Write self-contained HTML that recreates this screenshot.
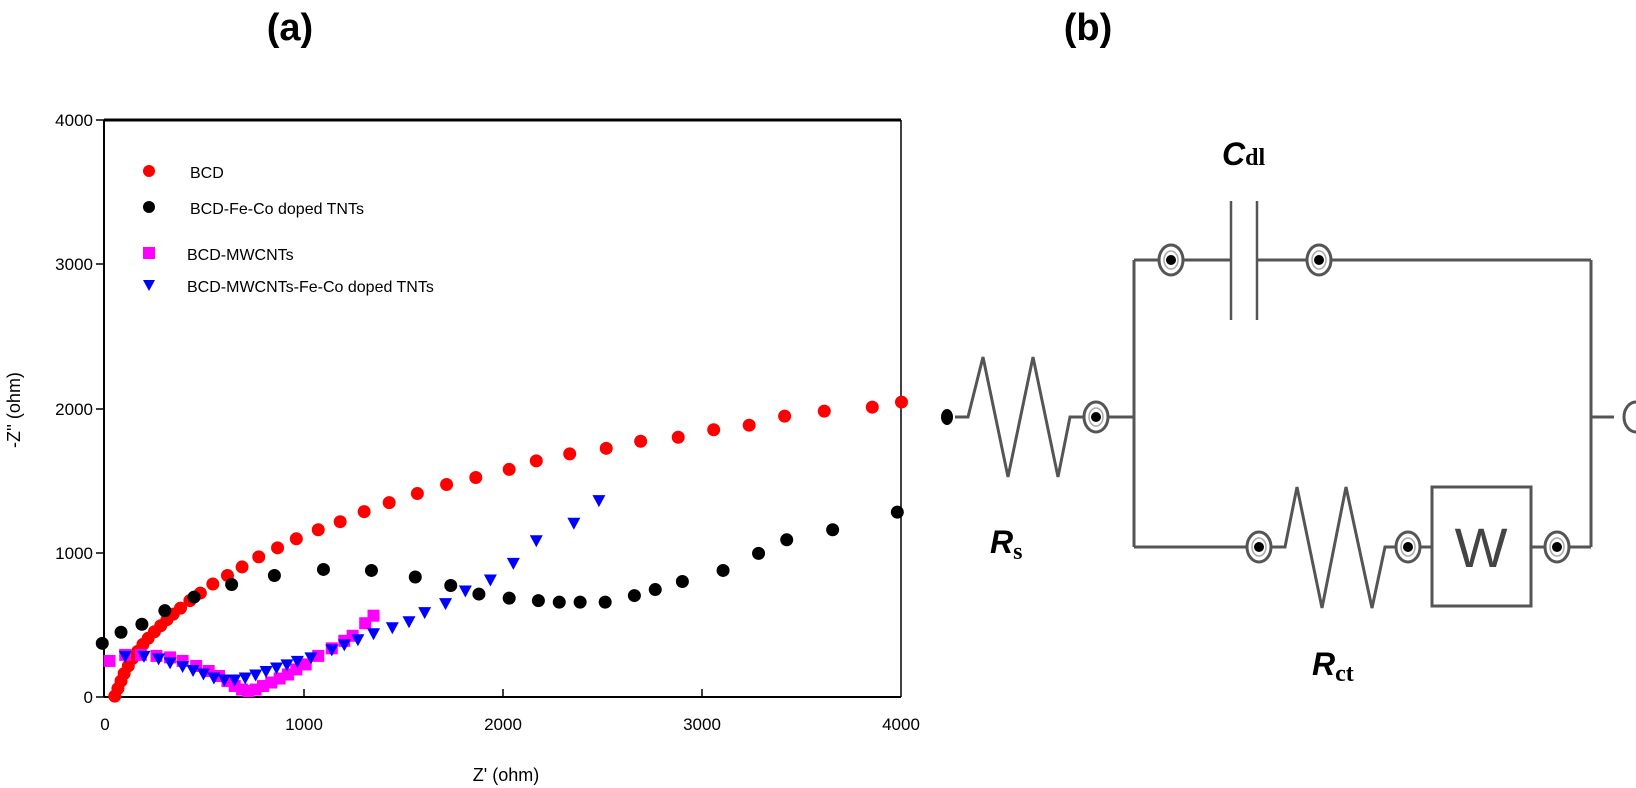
<!DOCTYPE html>
<html><head><meta charset="utf-8"><style>
html,body{margin:0;padding:0;background:#fff;}
svg{display:block;}
</style></head><body>
<svg id="s" width="1636" height="788" xmlns="http://www.w3.org/2000/svg" font-family="Liberation Sans, Arial, sans-serif">
<text x="290" y="40" font-size="38" font-weight="bold" text-anchor="middle">(a)</text>
<text x="1088" y="40" font-size="38" font-weight="bold" text-anchor="middle">(b)</text>
<g id="plot">
<line x1="104" y1="120" x2="901" y2="120" stroke="#000" stroke-width="3"/>
<line x1="901" y1="120" x2="901" y2="697" stroke="#000" stroke-width="1.5"/>
<line x1="104" y1="120" x2="104" y2="697" stroke="#000" stroke-width="2"/>
<line x1="104" y1="697" x2="901" y2="697" stroke="#000" stroke-width="2"/>
<g stroke="#000" stroke-width="1.5">
<line x1="96" y1="120" x2="104" y2="120"/><line x1="96" y1="264" x2="104" y2="264"/>
<line x1="96" y1="409" x2="104" y2="409"/><line x1="96" y1="553" x2="104" y2="553"/><line x1="96" y1="697" x2="104" y2="697"/>
<line x1="304" y1="697" x2="304" y2="689"/><line x1="503" y1="697" x2="503" y2="689"/><line x1="702" y1="697" x2="702" y2="689"/>
</g>
<g font-size="17" text-anchor="end">
<text x="93" y="126">4000</text><text x="93" y="270">3000</text><text x="93" y="415">2000</text><text x="93" y="559">1000</text><text x="93" y="703">0</text>
</g>
<g font-size="17" text-anchor="middle">
<text x="105" y="730">0</text><text x="304" y="730">1000</text><text x="503" y="730">2000</text><text x="702" y="730">3000</text><text x="901" y="730">4000</text>
</g>
<text x="506" y="781" font-size="18" text-anchor="middle">Z' (ohm)</text>
<text transform="translate(20,410) rotate(-90)" font-size="18" text-anchor="middle">-Z'' (ohm)</text>
<circle cx="149" cy="171" r="6" fill="#f00"/><text x="190" y="178" font-size="16">BCD</text>
<circle cx="149" cy="207" r="6" fill="#000"/><text x="190" y="214" font-size="16">BCD-Fe-Co doped TNTs</text>
<rect x="143" y="247" width="12" height="12" fill="#f0f"/><text x="187" y="260" font-size="16">BCD-MWCNTs</text>
<path d="M143,280 L155,280 L149,291 Z" fill="#00f"/><text x="187" y="292" font-size="16">BCD-MWCNTs-Fe-Co doped TNTs</text>
<g id="data"></g>
</g>
<g id="circ" stroke="#555" stroke-width="3" fill="none">
<ellipse cx="947" cy="417" rx="6" ry="8" fill="#000" stroke="none"/>
<polyline points="955,417 968,417 983,357 1008,477 1033,357 1058,477 1070,417 1096,417"/>
<line x1="1096" y1="417" x2="1134" y2="417"/>
<line x1="1134" y1="260" x2="1134" y2="547"/>
<line x1="1134" y1="260" x2="1231" y2="260"/><line x1="1257" y1="260" x2="1591" y2="260"/>
<line x1="1231" y1="201" x2="1231" y2="320" stroke-width="2.5"/><line x1="1257" y1="201" x2="1257" y2="320" stroke-width="2.5"/>
<line x1="1591" y1="260" x2="1591" y2="547"/>
<line x1="1591" y1="417" x2="1614" y2="417"/>
<path d="M1636,402 A12,15 0 0 0 1636,432"/>
<line x1="1134" y1="547" x2="1285" y2="547"/>
<polyline points="1259,547 1285,547 1297,487 1322,608 1346,487 1372,608 1385,547 1432,547"/>
<rect x="1432" y="487" width="99" height="119"/>
<line x1="1531" y1="547" x2="1591" y2="547"/>
</g>
<g id="nodes"></g>
<text x="1481" y="567" font-size="56" text-anchor="middle" fill="#444">W</text>
<text x="1222" y="165" font-size="32" font-weight="bold" font-style="italic">C<tspan font-family="Liberation Serif, serif" font-style="normal" font-size="24">dl</tspan></text>
<text x="990" y="553" font-size="32" font-weight="bold" font-style="italic">R<tspan font-family="Liberation Serif, serif" font-style="normal" font-size="24" dy="6">s</tspan></text>
<text x="1312" y="675" font-size="32" font-weight="bold" font-style="italic">R<tspan font-family="Liberation Serif, serif" font-style="normal" font-size="24" dy="6">ct</tspan></text>
</svg>
<script>
var NS="http://www.w3.org/2000/svg";
function el(p,t,a){var e=document.createElementNS(NS,t);for(var k in a)e.setAttribute(k,a[k]);p.appendChild(e);return e;}
var g=document.getElementById("data");
function T(p){return [p[0]*1.0434,p[1]*0.5026];}
var red=[[110,1385],[113,1370],[116,1355],[119,1340],[123,1325],[127,1310],[132,1296],[137,1282],[142,1270],[148,1257],[154,1245],[160,1233],[166,1222],[173,1210],[182,1195],[192,1180],[204,1162],[218,1145],[232,1128],[248,1108],[266,1090],[284,1072],[305,1054],[326,1038],[349,1018],[373,1000],[400,982],[428,964],[456,950],[488,934],[514,917],[546,903],[581,892],[614,878],[650,870],[684,855],[718,846],[752,828],[790,818],[836,810],[864,800]];
var blk=[[98,1280],[116,1258],[136,1242],[158,1215],[186,1188],[222,1163],[263,1145],[310,1133],[356,1135],[398,1148],[432,1165],[459,1182],[488,1190],[516,1195],[536,1198],[556,1198],[580,1198],[608,1185],[628,1173],[654,1157],[693,1135],[727,1101],[754,1074],[798,1054],[860,1019]];
var mag=[[105,1315],[120,1303],[135,1303],[150,1305],[163,1308],[175,1315],[188,1325],[200,1335],[210,1345],[218,1355],[225,1365],[232,1372],[238,1375],[245,1372],[252,1365],[260,1358],[268,1350],[276,1342],[284,1332],[293,1322],[305,1305],[318,1290],[330,1275],[338,1265],[350,1240],[358,1225]];
var blu=[[120,1305],[138,1305],[152,1310],[163,1318],[175,1325],[185,1333],[195,1340],[205,1348],[215,1352],[225,1352],[235,1348],[245,1342],[255,1335],[265,1328],[275,1322],[285,1315],[298,1308],[318,1292],[330,1282],[343,1272],[358,1260],[376,1248],[392,1236],[407,1218],[427,1200],[446,1175],[470,1153],[492,1120],[514,1075],[550,1040],[574,995]];
red.forEach(function(p){p=T(p);el(g,"circle",{cx:p[0],cy:p[1],r:6.5,fill:"#f00"});});
blk.forEach(function(p){p=T(p);el(g,"circle",{cx:p[0],cy:p[1],r:6.5,fill:"#000"});});
mag.forEach(function(p){p=T(p);el(g,"rect",{x:p[0]-6,y:p[1]-6,width:12,height:12,fill:"#f0f"});});
blu.forEach(function(p){p=T(p);el(g,"path",{d:"M"+(p[0]-6.5)+","+(p[1]-5)+" L"+(p[0]+6.5)+","+(p[1]-5)+" L"+p[0]+","+(p[1]+7)+" Z",fill:"#00f"});});
var n=document.getElementById("nodes");
[[1096,417],[1171,260],[1319,260],[1259,547],[1408,547],[1557,547]].forEach(function(p){
el(n,"ellipse",{cx:p[0],cy:p[1],rx:12,ry:15,fill:"#fff",stroke:"#555","stroke-width":3});
el(n,"ellipse",{cx:p[0],cy:p[1],rx:7,ry:9,fill:"#fff",stroke:"#aaa","stroke-width":1.5});
el(n,"circle",{cx:p[0],cy:p[1],r:5,fill:"#000"});
});
</script>
</body></html>
